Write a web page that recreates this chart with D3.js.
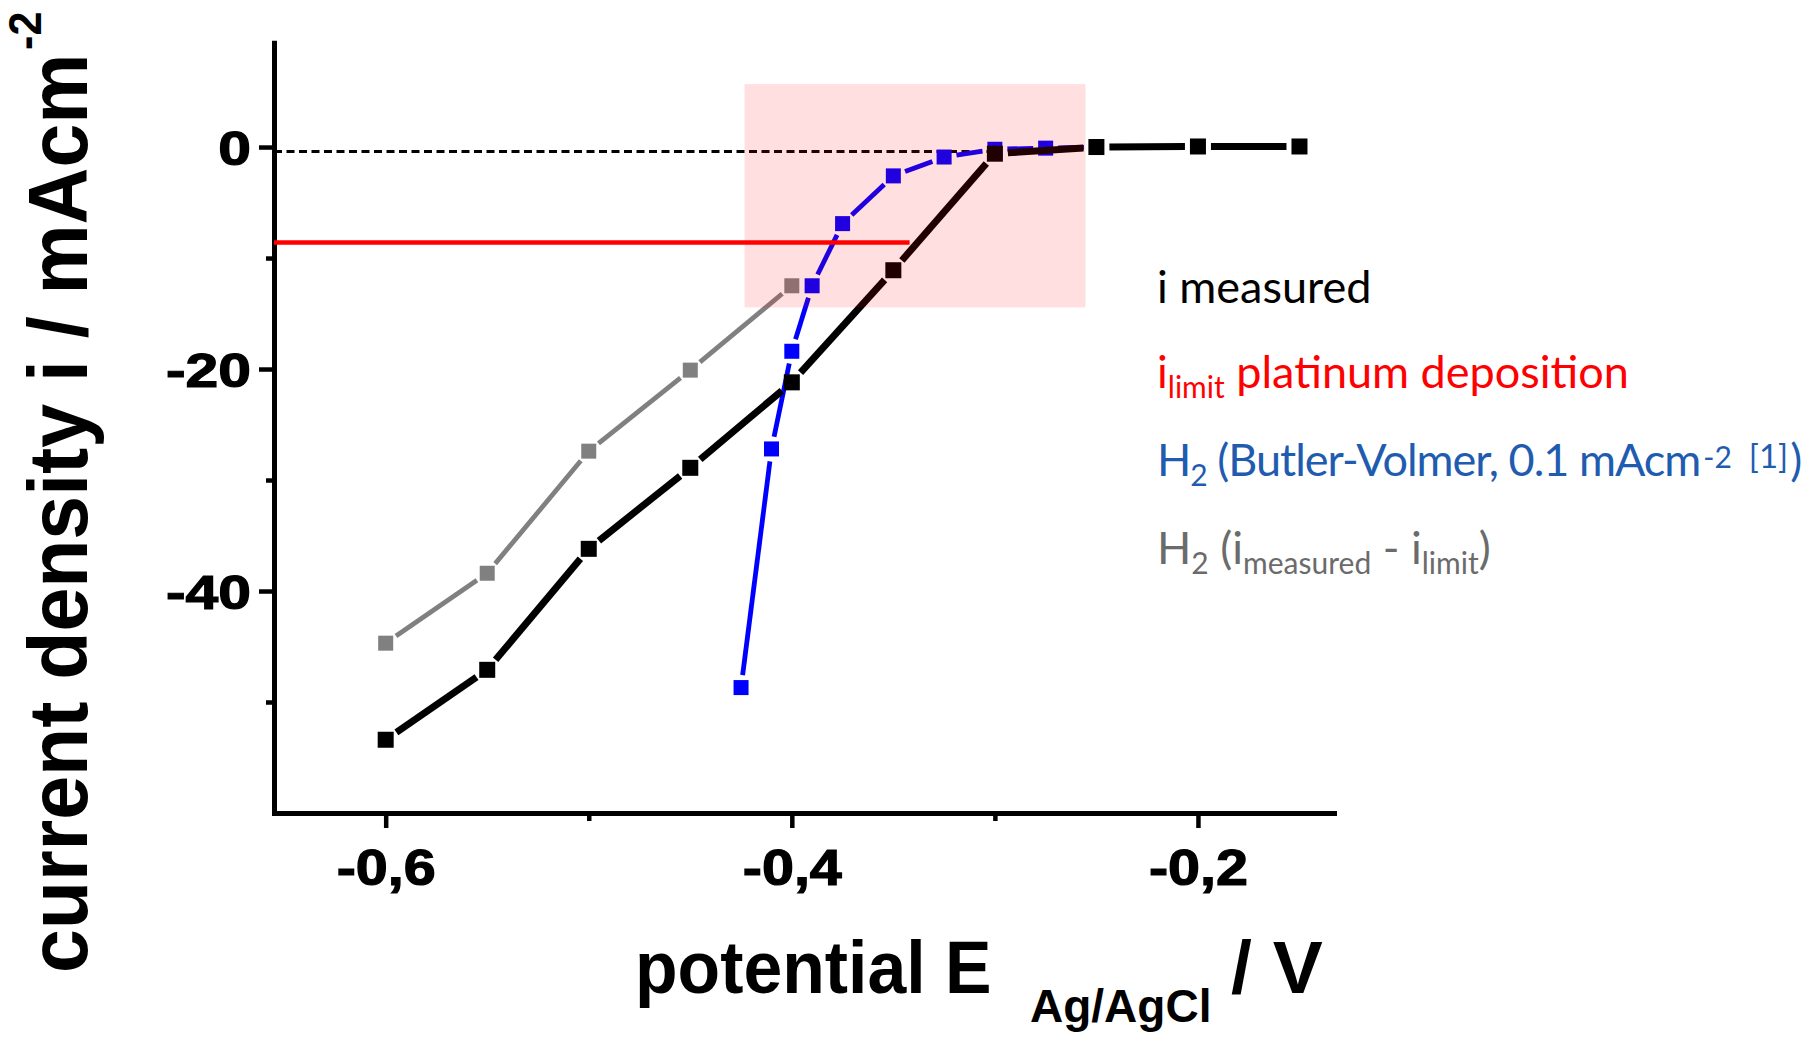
<!DOCTYPE html>
<html>
<head>
<meta charset="utf-8">
<script src="https://cdn.jsdelivr.net/npm/d3@7"></script>
<style>
  html, body { margin: 0; padding: 0; background: #ffffff; }
  svg { display: block; }
  text { white-space: pre; }
</style>
</head>
<body>
<svg id="chart" width="1807" height="1037"></svg>
<script>
// ---- data -------------------------------------------------------------
// measured current density (mA/cm2) versus potential (V vs Ag/AgCl)
const potentials = [-0.6, -0.55, -0.5, -0.45, -0.4, -0.35, -0.3, -0.25, -0.2, -0.15];
const iMeasured  = [-53.4, -47.1, -36.2, -28.9, -21.2, -11.1, -0.6, 0, 0.05, 0.05];

// hydrogen share: measured minus the platinum limiting current
const h2Potentials = [-0.6, -0.55, -0.5, -0.45, -0.4];
const h2Difference = [-44.7, -38.4, -27.4, -20.1, -12.5];

// hydrogen evolution after Butler-Volmer, exchange current 0.1 mA/cm2
const bvPotentials = [-0.425, -0.41, -0.40, -0.39, -0.375, -0.35, -0.325, -0.30, -0.275, -0.25];
const bvCurrent    = [-48.7, -27.2, -18.4, -12.5, -6.9, -2.6, -0.9, -0.2, -0.1, 0];

// limiting current of the platinum deposition and the zero reference
const iLimit = -8.6;
const iLimitEnd = -0.342;
const zeroRef = -0.4;
const zeroRefEnd = -0.3;

// highlighted window of the onset region
const highlightX = [-0.4233, -0.2554];
const highlightY = [-14.45, 5.67];

// axes
const xTicks = [-0.6, -0.4, -0.2];
const xTickLabels = ["-0,6", "-0,4", "-0,2"];
const xMinorTicks = [-0.5, -0.3];
const yTicks = [0, -20, -40];
const yTickLabels = ["0", "-20", "-40"];
const yMinorTicks = [-10, -30, -50];

// ---- chart ------------------------------------------------------------
const svg = d3.select("#chart");
const x = d3.scaleLinear().domain([-0.655, -0.133]).range([274, 1334]);
const y = d3.scaleLinear().domain([-60, 9.4]).range([813, 42.7]);

const boldFont = "'Liberation Sans', Arial, sans-serif";
const legendFont = "Lato, 'Open Sans', sans-serif";

// x axis
const gx = svg.append("g").attr("transform", `translate(0,${y.range()[0]})`)
  .call(d3.axisBottom(x).tickValues(xTicks)
    .tickFormat((d, i) => xTickLabels[i]).tickSize(15).tickSizeOuter(0));
const gxMinor = svg.append("g").attr("transform", `translate(0,${y.range()[0]})`)
  .call(d3.axisBottom(x).tickValues(xMinorTicks).tickFormat("").tickSize(8).tickSizeOuter(0));
gxMinor.select(".domain").remove();

// y axis
const gy = svg.append("g").attr("transform", `translate(${x.range()[0]},0)`)
  .call(d3.axisLeft(y).tickValues(yTicks)
    .tickFormat((d, i) => yTickLabels[i]).tickSize(15).tickSizeOuter(0));
const gyMinor = svg.append("g").attr("transform", `translate(${x.range()[0]},0)`)
  .call(d3.axisLeft(y).tickValues(yMinorTicks).tickFormat("").tickSize(8).tickSizeOuter(0));
gyMinor.select(".domain").remove();

[gx, gy].forEach(g => g.select(".domain")
  .attr("stroke", "#000").attr("stroke-width", 5).attr("stroke-linecap", "square"));
[gx, gy, gxMinor, gyMinor].forEach(g => g.selectAll(".tick line")
  .attr("stroke", "#000").attr("stroke-width", 4.5));

gx.selectAll(".tick text")
  .attr("y", null).attr("dy", null)
  .attr("transform", "translate(0,72) scale(1.15,1)")
  .attr("fill", "#000").attr("stroke", "#000").attr("stroke-width", 1.2)
  .style("font-family", boldFont).style("font-weight", "bold").style("font-size", "50px");

gy.selectAll(".tick text")
  .attr("x", null).attr("dy", "0.36em")
  .attr("transform", "translate(-23,0) scale(1.2,1)")
  .attr("fill", "#000").attr("stroke", "#000").attr("stroke-width", 1.2)
  .style("font-family", boldFont).style("font-weight", "bold").style("font-size", "49px");

// zero reference (dashed)
svg.append("line")
  .attr("x1", x(x.domain()[0])).attr("x2", x(zeroRefEnd))
  .attr("y1", y(zeroRef)).attr("y2", y(zeroRef))
  .attr("stroke", "#000").attr("stroke-width", 3).attr("stroke-dasharray", "8,4.5");

// series with a small gap between the line segments and the square markers
function drawSeries(xs, ys, color, lineWidth, size) {
  const pts = xs.map((v, i) => [x(v), y(ys[i])]);
  const g = svg.append("g");
  const gap = size / 2 + 5;
  for (let i = 0; i < pts.length - 1; i++) {
    const [x0, y0] = pts[i], [x1, y1] = pts[i + 1];
    const dx = x1 - x0, dy = y1 - y0, len = Math.hypot(dx, dy);
    if (len <= 2 * gap) continue;
    const ux = dx / len, uy = dy / len;
    g.append("line")
      .attr("x1", x0 + ux * gap).attr("y1", y0 + uy * gap)
      .attr("x2", x1 - ux * gap).attr("y2", y1 - uy * gap)
      .attr("stroke", color).attr("stroke-width", lineWidth);
  }
  g.selectAll("rect.marker").data(pts).join("rect").attr("class", "marker")
    .attr("x", d => d[0] - size / 2).attr("y", d => d[1] - size / 2)
    .attr("width", size).attr("height", size).attr("fill", color);
}

drawSeries(h2Potentials, h2Difference, "#808080", 4.8, 15);
drawSeries(bvPotentials, bvCurrent, "#0000ff", 4.8, 15);

// limiting current of the platinum deposition
svg.append("line")
  .attr("x1", x(x.domain()[0])).attr("x2", x(iLimitEnd))
  .attr("y1", y(iLimit)).attr("y2", y(iLimit))
  .attr("stroke", "#ff0000").attr("stroke-width", 4.5);

drawSeries(potentials, iMeasured, "#000000", 7, 16);

// translucent highlight of the onset window
svg.append("rect")
  .attr("x", x(highlightX[0])).attr("width", x(highlightX[1]) - x(highlightX[0]))
  .attr("y", y(highlightY[1])).attr("height", y(highlightY[0]) - y(highlightY[1]))
  .attr("fill", "#ff0000").attr("fill-opacity", 0.125);

// ---- axis titles ------------------------------------------------------
const yTitle = svg.append("text")
  .attr("transform", "translate(87,973) rotate(-90) scale(0.938,1)")
  .attr("fill", "#000")
  .style("font-family", boldFont).style("font-weight", "bold").style("font-size", "84px");
yTitle.append("tspan").text("current density i / mAcm");
yTitle.append("tspan").attr("dy", -46).attr("dx", 4).style("font-size", "46px").text("-2");

function boldText(xPos, yPos, sx, size, str) {
  return svg.append("text")
    .attr("transform", `translate(${xPos},${yPos}) scale(${sx},1)`)
    .attr("fill", "#000")
    .style("font-family", boldFont).style("font-weight", "bold").style("font-size", size + "px")
    .text(str);
}
boldText(635, 993, 0.93, 75, "potential E");
boldText(1030, 1022, 1.0, 46, "Ag/AgCl");
boldText(1231, 993, 1.0, 75, "/ V");

// ---- legend -----------------------------------------------------------
const legendSize = 45, smallSize = 30;
function richText(xPos, yBase, runs, color, spacing) {
  const t = svg.append("text").attr("x", xPos).attr("y", yBase).attr("fill", color)
    .style("font-family", legendFont).style("font-size", legendSize + "px");
  let shift = 0;
  runs.forEach(r => {
    const target = r.sub ? 10 : r.sup ? -8 : 0;
    const span = t.append("tspan").attr("dy", target - shift)
      .style("font-size", (r.sub || r.sup ? (r.size || smallSize) : legendSize) + "px")
      .style("letter-spacing", (r.sup ? 0 : (spacing || 0)) + "px")
      .text(r.t);
    if (r.dx) span.attr("dx", r.dx);
    shift = target;
  });
  return t;
}

richText(1157, 302.5, [{ t: "i measured" }], "#000000");
richText(1157, 388.3, [{ t: "i" }, { t: "limit", sub: true }, { t: " platinum deposition" }], "#ff0000");
richText(1157, 475.6, [
  { t: "H" }, { t: "2", sub: true }, { t: " (Butler-Volmer, 0.1 mAcm" },
  { t: "-2", sup: true, dx: 3 }, { t: "[1]", sup: true, dx: 17, size: 33 }, { t: ")", dx: 2 }
], "#1f5cb0", -1.0);
richText(1157, 564, [
  { t: "H" }, { t: "2", sub: true }, { t: " (i" }, { t: "measured", sub: true },
  { t: " - i" }, { t: "limit", sub: true }, { t: ")" }
], "#6b6b6b");
</script>
</body>
</html>
